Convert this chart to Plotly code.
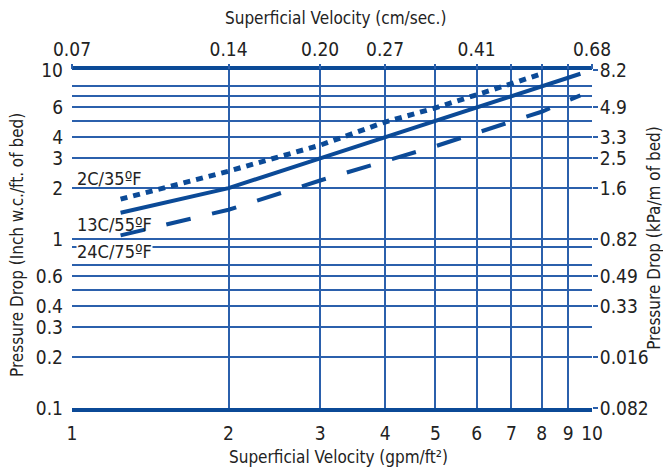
import math
import plotly.graph_objects as go

# ---- data ----
x_2c = [1.24, 2, 3, 4, 5, 6, 7, 8]
y_2c = [1.72, 2.52, 3.59, 4.92, 5.97, 7.1, 8.3, 9.5]

x_13c = [1.24, 2, 3, 5, 7, 9.5]
y_13c = [1.43, 2.0, 3.0, 5.0, 7.0, 9.5]

x_24c = [1.24, 2, 3, 5, 8, 9.5]
y_24c = [1.05, 1.49, 2.22, 3.54, 5.66, 7.08]

bottom_ticks = [1, 2, 3, 4, 5, 6, 7, 8, 9, 10]
bottom_text = ["1", "2", "3", "4", "5", "6", "7", "8", "9", "10"]
top_ticks = [1, 2, 3, 4, 5, 6, 7, 8, 9, 10]
top_text = ["0.07", "0.14", "0.20", "0.27", "", "0.41", "", "", "", "0.68"]
vgrid = [2, 3, 4, 5, 6, 7, 8, 9]

left_ticks = [10, 6, 4, 3, 2, 1, 0.6, 0.4, 0.3, 0.2, 0.1]
left_text = ["10", "6", "4", "3", "2", "1", "0.6", "0.4", "0.3", "0.2", "0.1"]
right_ticks = [10, 6, 4, 3, 2, 1, 0.6, 0.4, 0.2, 0.1]
right_text = ["8.2", "4.9", "3.3", "2.5", "1.6", "0.82", "0.49", "0.33", "0.016", "0.082"]
hgrid = [0.2, 0.3, 0.4, 0.5, 0.6, 0.7, 0.9, 1, 2, 3, 4, 5, 6, 7, 8]

labels = ["2C/35ºF", "13C/55ºF", "24C/75ºF"]
label_x = [1.02, 1.02, 1.02]
label_y = [2.28, 1.22, 0.84]

title_bottom = "Superficial Velocity (gpm/ft²)"
title_top = "Superficial Velocity (cm/sec.)"
title_left = "Pressure Drop (Inch w.c./ft. of bed)"
title_right = "Pressure Drop (kPa/m of bed)"

DARK = "#0b4a97"
GRID = "#2b60ac"
FONT = "DejaVu Sans Condensed, DejaVu Sans, sans-serif"
TXT = "#222222"

fig = go.Figure()
# traces are spread over the overlaid axis pairs (all share identical ranges)
fig.add_trace(go.Scatter(x=x_2c, y=y_2c, mode="lines", xaxis="x2", yaxis="y2",
                         line=dict(color=DARK, width=5, dash="7px,6px"),
                         showlegend=False, hoverinfo="skip"))
fig.add_trace(go.Scatter(x=x_13c, y=y_13c, mode="lines", xaxis="x3", yaxis="y3",
                         line=dict(color=DARK, width=4),
                         showlegend=False, hoverinfo="skip"))
fig.add_trace(go.Scatter(x=x_24c, y=y_24c, mode="lines", xaxis="x", yaxis="y",
                         line=dict(color=DARK, width=4, dash="25px,22px"),
                         showlegend=False, hoverinfo="skip"))

for t, xv, yv in zip(labels, label_x, label_y):
    fig.add_annotation(x=math.log10(xv), y=math.log10(yv), xref="x", yref="y",
                       text=t, showarrow=False, xanchor="left", yanchor="middle",
                       font=dict(family=FONT, size=18, color=TXT),
                       bgcolor="white" if t.startswith("24") else None,
                       borderpad=0)

# axis titles as paper annotations
tfont = dict(family=FONT, size=17, color=TXT)
fig.add_annotation(x=0.513, y=-0.145, xref="paper", yref="paper", text=title_bottom,
                   showarrow=False, xanchor="center", yanchor="middle", font=tfont)
fig.add_annotation(x=0.506, y=1.154, xref="paper", yref="paper", text=title_top,
                   showarrow=False, xanchor="center", yanchor="middle", font=tfont)
fig.add_annotation(x=-0.106, y=0.482, xref="paper", yref="paper", text=title_left,
                   showarrow=False, xanchor="center", yanchor="middle",
                   textangle=-90, font=tfont)
fig.add_annotation(x=1.119, y=0.503, xref="paper", yref="paper", text=title_right,
                   showarrow=False, xanchor="center", yanchor="middle",
                   textangle=-90, font=tfont)

fig.update_layout(
    width=663, height=473,
    margin=dict(l=72, r=71, t=70, b=65),
    paper_bgcolor="white", plot_bgcolor="rgba(0,0,0,0)",
    font=dict(family=FONT, size=19, color=TXT),
    xaxis=dict(type="log", range=[0, 1], tickvals=bottom_ticks, ticktext=bottom_text,
               showgrid=False, zeroline=False, showline=True, linewidth=4,
               linecolor=DARK, mirror=True, ticks="", ticklabelstandoff=5,
               automargin=False),
    xaxis2=dict(type="log", range=[0, 1], overlaying="x", side="top", anchor="y2",
                tickvals=top_ticks, ticktext=top_text, showgrid=False, zeroline=False,
                ticks="outside", ticklen=5, tickcolor=GRID, tickwidth=1.5,
                ticklabelstandoff=0, automargin=False),
    xaxis3=dict(type="log", range=[0, 1], overlaying="x", anchor="y3",
                tickvals=vgrid, showticklabels=False, showgrid=True,
                gridcolor=GRID, gridwidth=1.5, zeroline=False, ticks="",
                automargin=False),
    yaxis=dict(type="log", range=[-1, 1], tickvals=left_ticks, ticktext=left_text,
               showgrid=False, zeroline=False, showline=False, ticks="",
               ticklabelstandoff=8, automargin=False),
    yaxis2=dict(type="log", range=[-1, 1], overlaying="y", side="right", anchor="x2",
                tickvals=right_ticks, ticktext=right_text, showgrid=False,
                zeroline=False, ticks="outside", ticklen=5, tickcolor=GRID,
                tickwidth=2, ticklabelstandoff=-2, automargin=False),
    yaxis3=dict(type="log", range=[-1, 1], overlaying="y", anchor="x3",
                tickvals=hgrid, showticklabels=False, showgrid=True,
                gridcolor=GRID, gridwidth=1.5, zeroline=False, ticks="",
                automargin=False),
)

fig.write_html("out.html", config={"displayModeBar": False},
               post_script="document.body.style.margin='0';document.body.style.overflow='hidden';")
